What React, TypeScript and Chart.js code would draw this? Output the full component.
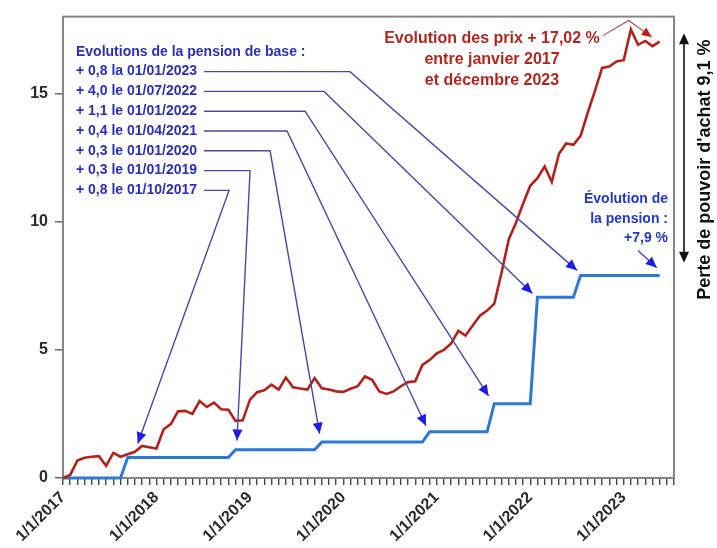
import { useEffect, useRef } from "react";
import { Chart, registerables } from "chart.js";

Chart.register(...registerables);

// Monthly categories (Jan 2017 .. Feb 2024)
const categories = [
  "2017-01","2017-02","2017-03","2017-04","2017-05","2017-06","2017-07","2017-08","2017-09","2017-10","2017-11","2017-12",
  "2018-01","2018-02","2018-03","2018-04","2018-05","2018-06","2018-07","2018-08","2018-09","2018-10","2018-11","2018-12",
  "2019-01","2019-02","2019-03","2019-04","2019-05","2019-06","2019-07","2019-08","2019-09","2019-10","2019-11","2019-12",
  "2020-01","2020-02","2020-03","2020-04","2020-05","2020-06","2020-07","2020-08","2020-09","2020-10","2020-11","2020-12",
  "2021-01","2021-02","2021-03","2021-04","2021-05","2021-06","2021-07","2021-08","2021-09","2021-10","2021-11","2021-12",
  "2022-01","2022-02","2022-03","2022-04","2022-05","2022-06","2022-07","2022-08","2022-09","2022-10","2022-11","2022-12",
  "2023-01","2023-02","2023-03","2023-04","2023-05","2023-06","2023-07","2023-08","2023-09","2023-10","2023-11","2023-12",
  "2024-01","2024-02",
];

const tickLabels = ["1/1/2017", "1/1/2018", "1/1/2019", "1/1/2020", "1/1/2021", "1/1/2022", "1/1/2023"];
const tickLabelEvery = 13;
const yTickValues = [0, 5, 10, 15];

// Evolution des prix (%), cumulative since Jan 2017
const prixSeries = [
  0, 0.12, 0.68, 0.79, 0.83, 0.85, 0.47, 0.98, 0.83, 0.93,
  1.02, 1.25, 1.2, 1.15, 1.9, 2.1, 2.6, 2.62, 2.5, 3.0,
  2.77, 2.94, 2.68, 2.66, 2.23, 2.25, 3.05, 3.35, 3.42, 3.64,
  3.45, 3.92, 3.54, 3.49, 3.45, 3.9, 3.5, 3.45, 3.38, 3.36,
  3.48, 3.58, 3.96, 3.83, 3.38, 3.28, 3.38, 3.58, 3.74, 3.77,
  4.41, 4.6, 4.86, 5.0, 5.25, 5.74, 5.56, 5.95, 6.33, 6.53,
  6.8, 8.0, 9.3, 9.95, 10.7, 11.4, 11.7, 12.15, 11.55, 12.65,
  13.05, 13.0, 13.35, 14.25, 15.1, 16.0, 16.05, 16.25, 16.3, 17.5,
  16.9, 17.05, 16.85, 17.02,
];

// Evolution de la pension de base (%), cumulative since Jan 2017
const pensionSeries = [
  0, 0, 0, 0, 0, 0, 0, 0, 0,
  0.8, 0.8, 0.8, 0.8, 0.8, 0.8, 0.8, 0.8, 0.8, 0.8, 0.8, 0.8, 0.8, 0.8, 0.8,
  1.1, 1.1, 1.1, 1.1, 1.1, 1.1, 1.1, 1.1, 1.1, 1.1, 1.1, 1.1,
  1.4, 1.4, 1.4, 1.4, 1.4, 1.4, 1.4, 1.4, 1.4, 1.4, 1.4, 1.4, 1.4, 1.4, 1.4,
  1.8, 1.8, 1.8, 1.8, 1.8, 1.8, 1.8, 1.8, 1.8,
  2.9, 2.9, 2.9, 2.9, 2.9, 2.9,
  7.05, 7.05, 7.05, 7.05, 7.05, 7.05,
  7.9, 7.9, 7.9, 7.9, 7.9, 7.9, 7.9, 7.9, 7.9, 7.9, 7.9, 7.9,
];

const pensionTitle = "Evolutions de la pension de base :";
const pensionNotes = [
  "+ 0,8 la 01/01/2023",
  "+ 4,0 le 01/07/2022",
  "+ 1,1 le 01/01/2022",
  "+ 0,4 le 01/04/2021",
  "+ 0,3 le 01/01/2020",
  "+ 0,3 le 01/01/2019",
  "+ 0,8 le 01/10/2017",
];
// arrow targets in data space (category index, value)
const pensionNoteTipIndex = [71.5, 65.3, 59.2, 50.5, 35.7, 24.2, 10.4];
const pensionNoteTipValue = [8.1, 7.2, 3.2, 2.04, 1.73, 1.46, 1.35];

const prixNote = ["Evolution des prix + 17,02 %", "entre janvier 2017", "et décembre 2023"];
const pensionEndNote = ["Évolution de", "la pension :", "+7,9 %"];
const perteNote = "Perte de pouvoir d'achat 9,1 %";

const FONT = "'Liberation Sans', Arial, Helvetica, sans-serif";

function arrowHead(ctx: CanvasRenderingContext2D, x0: number, y0: number, x1: number, y1: number, len: number, hw: number, color: string) {
  const a = Math.atan2(y1 - y0, x1 - x0);
  const bx = x1 - len * Math.cos(a);
  const by = y1 - len * Math.sin(a);
  ctx.beginPath();
  ctx.moveTo(x1, y1);
  ctx.lineTo(bx + hw * Math.sin(a), by - hw * Math.cos(a));
  ctx.lineTo(bx - hw * Math.sin(a), by + hw * Math.cos(a));
  ctx.closePath();
  ctx.fillStyle = color;
  ctx.fill();
}

function polyArrow(ctx: CanvasRenderingContext2D, pts: number[][], lineColor: string, headColor: string, lw: number, len: number, hw: number) {
  ctx.beginPath();
  ctx.moveTo(pts[0][0], pts[0][1]);
  for (let i = 1; i < pts.length; i++) ctx.lineTo(pts[i][0], pts[i][1]);
  ctx.strokeStyle = lineColor;
  ctx.lineWidth = lw;
  ctx.stroke();
  const n = pts.length;
  arrowHead(ctx, pts[n - 2][0], pts[n - 2][1], pts[n - 1][0], pts[n - 1][1], len, hw, headColor);
}

const notesPlugin = {
  id: "notes",
  beforeDatasetsDraw(chart: any) {
    const { ctx, chartArea } = chart;
    ctx.save();
    ctx.strokeStyle = "#858585";
    ctx.lineWidth = 2;
    ctx.strokeRect(chartArea.left, chartArea.top, chartArea.right - chartArea.left, chartArea.bottom - chartArea.top);
    ctx.restore();
  },
  afterDatasetsDraw(chart: any) {
    const { ctx, chartArea } = chart;
    const xs = chart.scales.x;
    const ys = chart.scales.y;
    const L = chartArea.left;
    const T = chartArea.top;
    const R = chartArea.right;
    ctx.save();

    // Pension notes (left block)
    ctx.font = `bold 14px ${FONT}`;
    ctx.textBaseline = "middle";
    ctx.textAlign = "left";
    const textX = L + 13;
    ctx.fillStyle = "#2b2fb8";
    ctx.fillText(pensionTitle, textX, T + 36);
    const elbowOffsets = [146, 120, 101, 83, 66, 46, 25];
    pensionNotes.forEach((txt, k) => {
      const y = T + 55 + k * 19.8;
      ctx.fillStyle = "#2b2fb8";
      ctx.fillText(txt, textX, y);
      const w = ctx.measureText(txt).width;
      const sx = textX + w + 7;
      const ex = sx + elbowOffsets[k];
      const tx = xs.getPixelForValue(pensionNoteTipIndex[k]);
      const ty = ys.getPixelForValue(pensionNoteTipValue[k]);
      polyArrow(ctx, [[sx, y], [ex, y], [tx, ty]], "#4a48a6", "#1c1ce6", 1.4, 11, 5);
    });

    // Prix note (red)
    ctx.font = `bold 16px ${FONT}`;
    ctx.textAlign = "center";
    ctx.fillStyle = "#b3261f";
    const cx = L + 429;
    prixNote.forEach((t, k) => ctx.fillText(t, cx, T + 22 + k * 21));
    const w0 = ctx.measureText(prixNote[0]).width;
    polyArrow(
      ctx,
      [
        [cx + w0 / 2 + 3, T + 19],
        [xs.getPixelForValue(78.7), ys.getPixelForValue(17.85)],
        [xs.getPixelForValue(81.9), ys.getPixelForValue(17.2)],
      ],
      "#b04848",
      "#c0201c",
      1.1,
      10,
      4.5
    );

    // Pension end note (blue)
    ctx.font = `bold 14px ${FONT}`;
    ctx.textAlign = "right";
    ctx.fillStyle = "#2236c8";
    pensionEndNote.forEach((t, k) => ctx.fillText(t, R - 6, T + 183 + k * 19.5));
    polyArrow(
      ctx,
      [
        [R - 36, T + 234],
        [xs.getPixelForValue(82.6), ys.getPixelForValue(8.2)],
      ],
      "#4a48a6",
      "#1c1ce6",
      1.4,
      11,
      5
    );

    // Double arrow (purchasing power loss)
    const ax = R + 10;
    const ay0 = ys.getPixelForValue(17.35);
    const ay1 = ys.getPixelForValue(8.4);
    ctx.beginPath();
    ctx.moveTo(ax, ay0 + 6);
    ctx.lineTo(ax, ay1 - 6);
    ctx.strokeStyle = "#111";
    ctx.lineWidth = 1.6;
    ctx.stroke();
    arrowHead(ctx, ax, ay1, ax, ay0, 11, 5, "#111");
    arrowHead(ctx, ax, ay0, ax, ay1, 11, 5, "#111");

    // Vertical text
    ctx.save();
    ctx.translate(R + 31, T + 153);
    ctx.rotate(-Math.PI / 2);
    ctx.font = `bold 18px ${FONT}`;
    ctx.textAlign = "center";
    ctx.textBaseline = "middle";
    ctx.fillStyle = "#111";
    ctx.fillText(perteNote, 0, 0);
    ctx.restore();

    ctx.restore();
  },
};

export default function App() {
  const canvasRef = useRef<HTMLCanvasElement | null>(null);

  useEffect(() => {
    if (!canvasRef.current) return;
    const chart = new Chart(canvasRef.current, {
      type: "line",
      data: {
        labels: categories,
        datasets: [
          {
            label: "Evolution des prix",
            data: prixSeries,
            borderColor: "#b3211d",
            borderWidth: 2.6,
            pointRadius: 0,
            tension: 0,
            clip: 6,
          },
          {
            label: "Evolution de la pension",
            data: pensionSeries,
            borderColor: "#2f78d4",
            borderWidth: 3,
            pointRadius: 0,
            tension: 0,
            clip: 6,
          },
        ],
      },
      options: {
        animation: false,
        responsive: true,
        maintainAspectRatio: false,
        layout: { padding: { top: 10, right: 43, left: 0, bottom: 0 } },
        plugins: { legend: { display: false }, tooltip: { enabled: false } },
        scales: {
          x: {
            type: "category",
            offset: false,
            border: { display: false },
            grid: {
              display: true,
              drawOnChartArea: false,
              drawTicks: true,
              tickLength: 7,
              color: "#444",
              lineWidth: 1.4,
              offset: false,
            },
            ticks: {
              autoSkip: false,
              maxRotation: 45,
              minRotation: 45,
              padding: 3,
              color: "#2a2a2a",
              font: { family: FONT, size: 16, weight: "bold" },
              callback: (_v: any, i: number) =>
                i % tickLabelEvery === 0 && tickLabels[i / tickLabelEvery] ? tickLabels[i / tickLabelEvery] : "",
            },
            afterFit: (s: any) => {
              s.height = 70;
            },
          },
          y: {
            min: 0,
            max: 18,
            border: { display: false },
            grid: { drawOnChartArea: false, drawTicks: true, tickLength: 8, color: "#666", lineWidth: 1.5 },
            ticks: {
              stepSize: 5,
              padding: 7,
              color: "#2a2a2a",
              font: { family: FONT, size: 16, weight: "bold" },
            },
            afterBuildTicks: (s: any) => {
              s.ticks = yTickValues.map((v) => ({ value: v }));
            },
            afterFit: (s: any) => {
              s.width = 63;
            },
          },
        },
      } as any,
      plugins: [notesPlugin],
    });
    return () => chart.destroy();
  }, []);

  return (
    <div style={{ position: "fixed", left: 0, top: 0, width: 717, height: 548, background: "#fff" }}>
      <canvas ref={canvasRef} />
    </div>
  );
}
